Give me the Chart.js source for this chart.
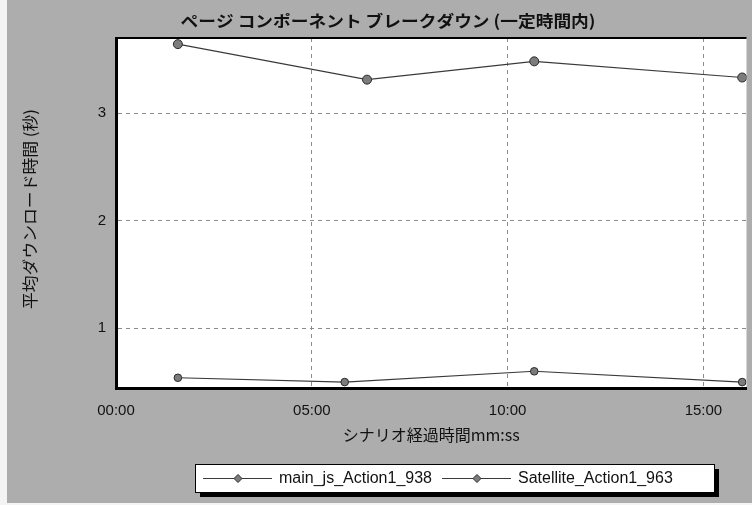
<!DOCTYPE html>
<html>
<head>
<meta charset="utf-8">
<script src="https://cdn.jsdelivr.net/npm/chart.js@4/dist/chart.umd.min.js"></script>
<style>
  html, body { margin: 0; padding: 0; background: #f4f4f4; }
  canvas { display: block; }
</style>
</head>
<body>
<canvas id="c" width="752" height="505"></canvas>
<script>
// Elapsed scenario time in minutes and average download time in seconds
const seriesNames = ['main_js_Action1_938', 'Satellite_Action1_963'];
const mainJsTimes = [1.58, 5.84, 10.68, 15.99];
const mainJsValues = [0.54, 0.50, 0.60, 0.50];
const satelliteTimes = [1.58, 6.41, 10.68, 15.99];
const satelliteValues = [3.64, 3.31, 3.48, 3.33];
const xTickMinutes = [0, 5, 10, 15];
const yTickValues = [1, 2, 3];

const titleText = 'ページ コンポーネント ブレークダウン (一定時間内)';
const xTitleText = 'シナリオ経過時間mm:ss';
const yTitleText = '平均ダウンロード時間 (秒)';

const JP = '"Noto Sans CJK JP", "Noto Sans", sans-serif';
const LAT = '"Liberation Sans", Arial, sans-serif';

function mmss(m) {
  const total = Math.round(m * 60);
  const mm = Math.floor(total / 60), ss = total % 60;
  return String(mm).padStart(2, '0') + ':' + String(ss).padStart(2, '0');
}

function toPoints(xs, ys) {
  return xs.map((x, i) => ({ x: x, y: ys[i] }));
}

function drawDiamond(ctx, x, y, r) {
  ctx.beginPath();
  ctx.moveTo(x, y - r);
  ctx.lineTo(x + r, y);
  ctx.lineTo(x, y + r);
  ctx.lineTo(x - r, y);
  ctx.closePath();
  ctx.fill();
  ctx.stroke();
}

// Centred text squeezed or stretched along its baseline to a given length
function fittedText(ctx, text, cx, cy, length) {
  const w = ctx.measureText(text).width;
  ctx.save();
  ctx.translate(cx, cy);
  ctx.scale(length / w, 1);
  ctx.textAlign = 'center';
  ctx.textBaseline = 'middle';
  ctx.fillText(text, 0, 0);
  ctx.restore();
}

// Frame, titles, top rule and the boxed legend with its drop shadow
const decorations = {
  id: 'decorations',
  beforeDraw(chart) {
    const ctx = chart.ctx;
    const a = chart.chartArea;
    ctx.save();
    ctx.fillStyle = '#adadad';
    ctx.fillRect(7, 0, chart.width - 7, chart.height - 2);
    ctx.fillStyle = '#ffffff';
    ctx.fillRect(a.left, a.top, a.right - a.left, a.bottom - a.top);
    ctx.restore();
  },
  afterDraw(chart) {
    const ctx = chart.ctx;
    const a = chart.chartArea;
    ctx.save();

    // top rule of the plot frame
    ctx.strokeStyle = '#000';
    ctx.lineWidth = 2;
    ctx.beginPath();
    ctx.moveTo(a.left - 1, a.top);
    ctx.lineTo(a.right, a.top);
    ctx.stroke();

    // chart title
    ctx.fillStyle = '#111';
    ctx.font = 'bold 16px ' + JP;
    fittedText(ctx, titleText, 388, 21, 415);

    // axis titles
    ctx.font = '16px ' + JP;
    ctx.textAlign = 'center';
    ctx.textBaseline = 'middle';
    ctx.fillText(xTitleText, (a.left + a.right) / 2, 435);
    ctx.save();
    ctx.translate(30, 209);
    ctx.rotate(-Math.PI / 2);
    ctx.font = '16px ' + JP;
    fittedText(ctx, yTitleText, 0, 0, 200);
    ctx.restore();

    // legend
    const bx = 195, by = 464, bw = 519, bh = 28;
    ctx.fillStyle = '#000';
    ctx.fillRect(bx + 5, by + 5, bw, bh);
    ctx.fillStyle = '#fff';
    ctx.fillRect(bx, by, bw, bh);
    ctx.strokeStyle = '#000';
    ctx.lineWidth = 1;
    ctx.strokeRect(bx + 0.5, by + 0.5, bw, bh);

    ctx.font = '16px ' + LAT;
    ctx.textAlign = 'left';
    ctx.textBaseline = 'middle';
    let cx = bx + 8;
    const cy = by + bh / 2 + 0.5;
    chart.data.datasets.forEach((ds) => {
      ctx.strokeStyle = ds.borderColor;
      ctx.lineWidth = 1;
      ctx.beginPath();
      ctx.moveTo(cx, cy);
      ctx.lineTo(cx + 69, cy);
      ctx.stroke();
      ctx.fillStyle = ds.pointBackgroundColor;
      ctx.strokeStyle = ds.pointBorderColor;
      drawDiamond(ctx, cx + 35, cy, 4);
      ctx.fillStyle = '#111';
      ctx.fillText(ds.label, cx + 76, cy);
      cx += 76 + ctx.measureText(ds.label).width + 10;
    });
    ctx.restore();
  }
};

new Chart(document.getElementById('c'), {
  type: 'line',
  data: {
    datasets: [
      {
        label: seriesNames[0],
        data: toPoints(mainJsTimes, mainJsValues),
        borderColor: '#3a3a3a',
        borderWidth: 1.1,
        pointRadius: 3.8,
        pointBackgroundColor: '#7c7c7c',
        pointBorderColor: '#2a2a2a',
        pointBorderWidth: 1,
        tension: 0
      },
      {
        label: seriesNames[1],
        data: toPoints(satelliteTimes, satelliteValues),
        borderColor: '#3a3a3a',
        borderWidth: 1.1,
        pointRadius: 4.5,
        pointBackgroundColor: '#7c7c7c',
        pointBorderColor: '#2a2a2a',
        pointBorderWidth: 1,
        tension: 0
      }
    ]
  },
  options: {
    responsive: false,
    animation: false,
    devicePixelRatio: 1,
    layout: { padding: { top: 38, left: 0, right: 0, bottom: 0 } },
    plugins: {
      legend: { display: false },
      title: { display: false },
      tooltip: { enabled: false }
    },
    scales: {
      x: {
        type: 'linear',
        min: 0,
        max: 16.1,
        afterBuildTicks(scale) {
          scale.ticks = xTickMinutes.map((v) => ({ value: v }));
        },
        afterFit(scale) { scale.height = 117; },
        ticks: {
          padding: 14,
          color: '#111',
          font: { family: LAT, size: 15 },
          maxRotation: 0,
          callback: (v) => mmss(v)
        },
        grid: { color: '#8c8c8c', lineWidth: 1, drawTicks: false },
        border: { display: true, color: '#000', width: 3, dash: [4, 4] }
      },
      y: {
        type: 'linear',
        min: 0.445,
        max: 3.697,
        afterBuildTicks(scale) {
          scale.ticks = yTickValues.map((v) => ({ value: v }));
        },
        afterFit(scale) { scale.width = 116; },
        ticks: {
          padding: 10,
          color: '#111',
          font: { family: LAT, size: 15 },
          callback: (v) => String(v)
        },
        grid: { color: '#8c8c8c', lineWidth: 1, drawTicks: false },
        border: { display: true, color: '#000', width: 3, dash: [4, 4] }
      }
    }
  },
  plugins: [decorations]
});
</script>
</body>
</html>
